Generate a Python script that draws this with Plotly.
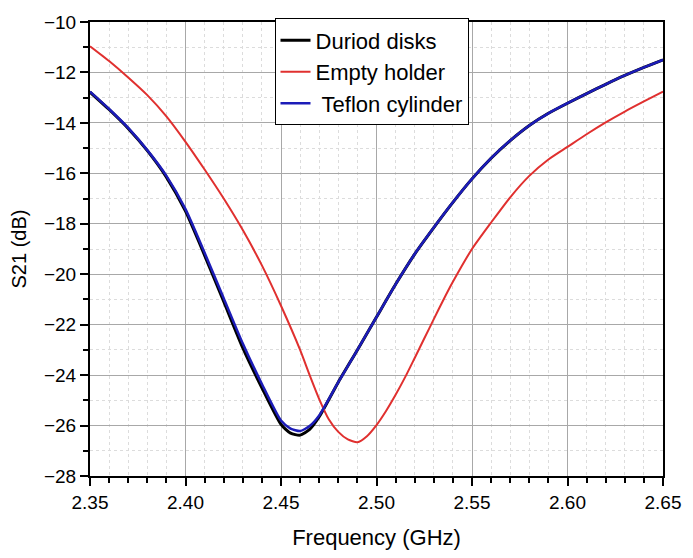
import plotly.graph_objects as go

# Frequency (GHz) / S21 (dB) readings
freq_black = [2.35, 2.36, 2.37, 2.38, 2.39, 2.40, 2.41, 2.42, 2.43, 2.44, 2.45, 2.455, 2.46, 2.465, 2.47,
              2.48, 2.49, 2.50, 2.51, 2.52, 2.53, 2.54, 2.55, 2.56, 2.57, 2.58, 2.59, 2.60, 2.61, 2.62,
              2.63, 2.64, 2.65]
s21_black = [-12.78, -13.47, -14.22, -15.1, -16.15, -17.5, -19.25, -21.08, -22.92, -24.5, -25.95, -26.3,
             -26.38, -26.15, -25.65, -24.28, -23.0, -21.7, -20.4, -19.2, -18.15, -17.15, -16.22, -15.4,
             -14.7, -14.1, -13.62, -13.22, -12.84, -12.47, -12.12, -11.8, -11.5]

freq_red = [2.35, 2.36, 2.37, 2.38, 2.39, 2.40, 2.41, 2.42, 2.43, 2.44, 2.45, 2.46, 2.465, 2.47, 2.475,
            2.48, 2.485, 2.49, 2.495, 2.50, 2.505, 2.51, 2.515, 2.52, 2.525, 2.53, 2.535, 2.54, 2.55,
            2.56, 2.57, 2.58, 2.59, 2.60, 2.61, 2.62, 2.63, 2.64, 2.65]
s21_red = [-10.96, -11.55, -12.2, -12.9, -13.74, -14.75, -15.85, -17.0, -18.25, -19.65, -21.25, -23.0,
           -24.0, -24.95, -25.75, -26.25, -26.55, -26.66, -26.42, -25.98, -25.42, -24.78, -24.08, -23.32,
           -22.55, -21.78, -21.02, -20.3, -19.0, -17.95, -16.95, -16.1, -15.45, -14.95, -14.45, -13.98,
           -13.55, -13.15, -12.76]

freq_blue = [2.35, 2.36, 2.37, 2.38, 2.39, 2.40, 2.41, 2.42, 2.43, 2.44, 2.45, 2.455, 2.46, 2.465, 2.47,
             2.48, 2.49, 2.50, 2.51, 2.52, 2.53, 2.54, 2.55, 2.56, 2.57, 2.58, 2.59, 2.60, 2.61, 2.62,
             2.63, 2.64, 2.65]
s21_blue = [-12.76, -13.45, -14.2, -15.08, -16.1, -17.42, -19.15, -20.95, -22.75, -24.35, -25.8, -26.12,
            -26.22, -26.02, -25.6, -24.28, -23.0, -21.7, -20.4, -19.2, -18.15, -17.15, -16.22, -15.4,
            -14.7, -14.1, -13.62, -13.22, -12.84, -12.47, -12.12, -11.8, -11.5]

names = ["Duriod disks", "Empty holder", "\u00a0Teflon cylinder"]

x_ticks = [2.35, 2.40, 2.45, 2.50, 2.55, 2.60, 2.65]
y_ticks = [-28, -26, -24, -22, -20, -18, -16, -14, -12, -10]

fig = go.Figure()
fig.add_trace(go.Scatter(x=freq_black, y=s21_black, mode="lines", name=names[0],
                         line=dict(color="#000000", width=3, shape="spline", smoothing=0.6)))
fig.add_trace(go.Scatter(x=freq_red, y=s21_red, mode="lines", name=names[1],
                         line=dict(color="#e0302f", width=2, shape="spline", smoothing=0.6)))
fig.add_trace(go.Scatter(x=freq_blue, y=s21_blue, mode="lines", name=names[2],
                         line=dict(color="#1c1cb8", width=2.5, shape="spline", smoothing=0.6)))

font_family = "Liberation Sans, Arial, sans-serif"

fig.update_layout(
    width=693, height=558,
    margin=dict(l=90, r=21, t=20, b=81),
    paper_bgcolor="white", plot_bgcolor="white",
    font=dict(family=font_family, color="black", size=18),
    legend=dict(x=0.322, y=1.008, xanchor="left", yanchor="top",
                bgcolor="white", bordercolor="black", borderwidth=1,
                font=dict(size=22, family=font_family),
                tracegroupgap=0),
)

fig.update_xaxes(
    range=[2.35, 2.65], tickvals=x_ticks, tickformat=".2f",
    showline=True, linecolor="black", linewidth=2, mirror=True,
    ticks="outside", ticklen=8, tickwidth=2, tickcolor="black",
    showgrid=True, gridcolor="#a8a8a8", gridwidth=1,
    minor=dict(dtick=0.01, ticks="outside", ticklen=5, tickwidth=1.5, tickcolor="black",
               showgrid=True, gridcolor="#dcdcdc", griddash="dot", gridwidth=1),
    zeroline=False,
    title=dict(text="Frequency (GHz)", font=dict(size=22), standoff=18),
    tickfont=dict(size=19),
)
fig.update_yaxes(
    range=[-28, -10], tickvals=y_ticks,
    showline=True, linecolor="black", linewidth=2, mirror=True,
    ticks="outside", ticklen=8, tickwidth=2, tickcolor="black",
    showgrid=True, gridcolor="#a8a8a8", gridwidth=1,
    minor=dict(dtick=1, ticks="outside", ticklen=5, tickwidth=1.5, tickcolor="black",
               showgrid=True, gridcolor="#dcdcdc", griddash="dot", gridwidth=1),
    zeroline=False,
    title=dict(text="S21 (dB)", font=dict(size=20), standoff=12),
    tickfont=dict(size=19),
)

fig.write_html("out.html")
